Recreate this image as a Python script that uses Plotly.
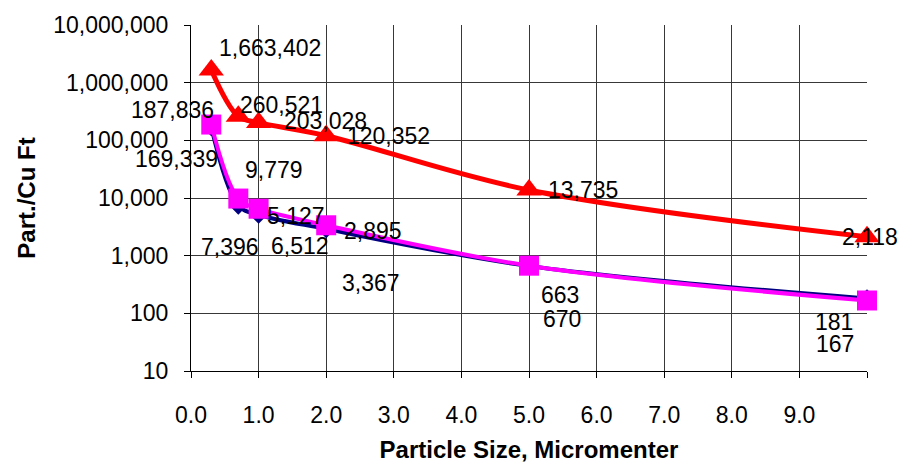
import numpy as np
import plotly.graph_objects as go

# ---- data ----
x_vals = [0.3, 0.7, 1.0, 2.0, 5.0, 10.0]
red_vals = [1663402, 260521, 203028, 120352, 13735, 2118]
navy_vals = [169339, 7396, 5127, 2895, 663, 181]
magenta_vals = [187836, 9779, 6512, 3367, 670, 167]

x_tick_vals = [0, 1, 2, 3, 4, 5, 6, 7, 8, 9, 10]
x_tick_text = ["0.0", "1.0", "2.0", "3.0", "4.0", "5.0", "6.0", "7.0", "8.0", "9.0", ""]
y_tick_vals = [10, 100, 1000, 10000, 100000, 1000000, 10000000]
y_tick_text = ["10", "100", "1,000", "10,000", "100,000", "1,000,000", "10,000,000"]

# ---- label offsets (style: pixel shifts of value labels) ----
red_shift = [(59, 22), (43, 11), (67, 2), (62, 0), (54, 0), (3, 0)]
navy_shift = [(-35, -32), (-8, -41), (37, -1), (47, -2), (31, -29), (-33, -24)]
magenta_shift = [(-39, 15), (36, 29), (41, -37), (45, -58), (33, -53), (-32, -44)]

FONT = "Liberation Sans, Arial, sans-serif"
GRID = "#383838"

fig = go.Figure()

series = [
    (navy_vals, "#000080", "diamond", 14, 4, navy_shift),
    (magenta_vals, "#FF00FF", "square", 20, 4, magenta_shift),
    (red_vals, "#FF0000", "triangle-up", 22, 5, red_shift),
]

for vals, color, sym, msize, lw, _ in series:
    fig.add_trace(go.Scatter(
        x=x_vals, y=vals, mode="lines+markers",
        line=dict(color=color, width=lw, shape="spline", smoothing=1.0),
        marker=dict(symbol=sym, size=msize, color=color, line=dict(width=0)),
        showlegend=False, cliponaxis=False,
    ))

annotations = []
for vals, color, sym, msize, lw, shifts in series:
    for xv, v, (dx, dy) in zip(x_vals, vals, shifts):
        annotations.append(dict(
            x=xv, y=np.log10(v), xref="x", yref="y",
            text=f"{v:,}", showarrow=False,
            xshift=dx, yshift=dy,
            xanchor="center", yanchor="middle",
            font=dict(family=FONT, size=23, color="black"),
        ))

fig.update_layout(
    width=906, height=470,
    margin=dict(l=191, r=39, t=20, b=99),
    paper_bgcolor="white", plot_bgcolor="white",
    font=dict(family=FONT, size=23, color="black"),
    annotations=annotations,
)

fig.update_xaxes(
    range=[0, 10], tickvals=x_tick_vals, ticktext=x_tick_text,
    showgrid=True, gridcolor=GRID, gridwidth=1,
    showline=True, linecolor="black", linewidth=1,
    ticks="outside", ticklen=6, tickcolor="black",
    ticklabelstandoff=17, zeroline=False,
    tickfont=dict(family=FONT, size=23, color="black"),
    title=dict(text="<b>Particle Size, Micromenter</b>", standoff=14,
               font=dict(family=FONT, size=24, color="black")),
)
fig.update_yaxes(
    type="log", range=[1, 7], tickvals=y_tick_vals, ticktext=y_tick_text,
    showgrid=True, gridcolor=GRID, gridwidth=1,
    showline=True, linecolor="black", linewidth=1,
    ticks="outside", ticklen=6, tickcolor="black",
    ticklabelstandoff=11, zeroline=False,
    tickfont=dict(family=FONT, size=23, color="black"),
    title=dict(text="<b>Part./Cu Ft</b>", standoff=10,
               font=dict(family=FONT, size=24, color="black")),
)

fig.write_html("out.html")
